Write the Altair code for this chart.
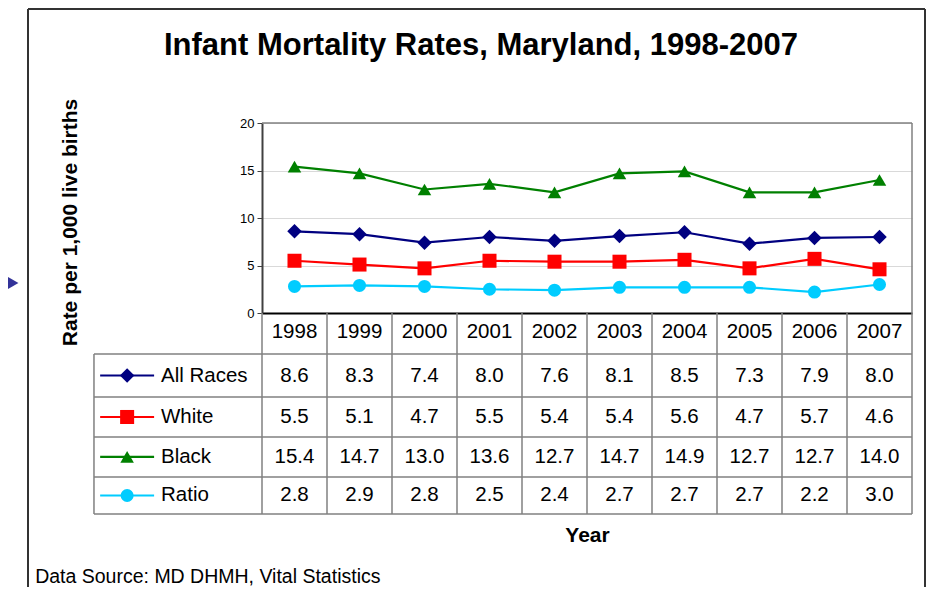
import altair as alt
import pandas as pd

# ---------------- data ----------------
years = [1998, 1999, 2000, 2001, 2002, 2003, 2004, 2005, 2006, 2007]
series_names = ["All Races", "White", "Black", "Ratio"]
all_races = [8.6, 8.3, 7.4, 8.0, 7.6, 8.1, 8.5, 7.3, 7.9, 8.0]
white = [5.5, 5.1, 4.7, 5.5, 5.4, 5.4, 5.6, 4.7, 5.7, 4.6]
black = [15.4, 14.7, 13.0, 13.6, 12.7, 14.7, 14.9, 12.7, 12.7, 14.0]
ratio = [2.8, 2.9, 2.8, 2.5, 2.4, 2.7, 2.7, 2.7, 2.2, 3.0]
y_ticks = [0, 5, 10, 15, 20]

# ---------------- styles ----------------
colors = ["#000080", "#FF0000", "#008000", "#00CCFF"]
shapes = ["diamond", "square", "triangle-up", "circle"]
marker_sizes = [210, 170, 200, 150]
FONT = "Liberation Sans"

# layout in axis units (1 x-unit = one year column, y in rate units)
ROW_EDGES = [0, -4.32, -8.84, -13.05, -17.26, -21.16]
LABEL_LEFT = -2.585
FRAME_L, FRAME_R, FRAME_T, FRAME_B = -3.6, 10.2, 32.0, -30.5

XS = alt.Scale(domain=[0, 10], nice=False, zero=False)
YS = alt.Scale(domain=[0, 20], nice=False, zero=False)
COLOR = alt.Scale(domain=series_names, range=colors)
SHAPE = alt.Scale(domain=series_names, range=shapes)
SIZE = alt.Scale(domain=series_names, range=marker_sizes)

# ---------------- tables ----------------
vals = [all_races, white, black, ratio]
rows = []
for si, (name, vs) in enumerate(zip(series_names, vals)):
    yc = (ROW_EDGES[si + 1] + ROW_EDGES[si + 2]) / 2
    for i, (yr, v) in enumerate(zip(years, vs)):
        rows.append(dict(series=name, year=yr, xc=i + 0.5, value=v,
                         label=f"{v:.1f}", rowc=yc))
df = pd.DataFrame(rows)

df_years = pd.DataFrame(dict(xc=[i + 0.5 for i in range(len(years))],
                             yc=[(ROW_EDGES[0] + ROW_EDGES[1]) / 2 + 0.2] * len(years),
                             label=[str(y) for y in years]))

df_leg = pd.DataFrame(dict(
    series=series_names,
    x1=[-2.49] * 4, x2=[-1.66] * 4, xm=[-2.075] * 4, xt=[-1.554] * 4,
    yc=[(ROW_EDGES[i + 1] + ROW_EDGES[i + 2]) / 2 for i in range(4)]))

seg = []
for k in range(0, 10):
    seg.append(dict(x=k, x2=k, y=0, y2=ROW_EDGES[-1]))
seg.append(dict(x=10, x2=10, y=20, y2=ROW_EDGES[-1]))
for e in ROW_EDGES[1:]:
    seg.append(dict(x=LABEL_LEFT, x2=10, y=e, y2=e))
seg.append(dict(x=LABEL_LEFT, x2=LABEL_LEFT, y=ROW_EDGES[1], y2=ROW_EDGES[-1]))
seg.append(dict(x=0, x2=10, y=20, y2=20))
df_seg = pd.DataFrame(seg)

df_frame = pd.DataFrame([
    dict(x=FRAME_L, x2=FRAME_L, y=FRAME_T, y2=FRAME_B),
    dict(x=FRAME_R, x2=FRAME_R, y=FRAME_T, y2=FRAME_B),
    dict(x=FRAME_L, x2=FRAME_R, y=FRAME_T, y2=FRAME_T),
])

df_note = pd.DataFrame(dict(x=[-3.49], y=[-27.75], t=["Data Source: MD DHMH, Vital Statistics"]))
df_arrow = pd.DataFrame(dict(x=[-3.88], y=[3.16]))

# ---------------- axes ----------------
yaxis = alt.Axis(values=y_ticks, grid=True, gridColor="#D9D9D9", gridWidth=1,
                 domainColor="#404040", domainWidth=2, tickColor="#404040",
                 tickSize=5, tickWidth=1, labelFont=FONT, labelFontSize=13,
                 labelColor="black", labelPadding=3,
                 title="Rate per 1,000 live births", titleFont=FONT,
                 titleFontSize=21, titleFontWeight="bold", titleColor="black",
                 titleX=-192, titleY=99, titleAngle=270, titleBaseline="middle",
                 titleAlign="center")
xaxis = alt.Axis(labels=False, ticks=False, grid=False, domainColor="black",
                 domainWidth=2, title="Year", titleFont=FONT, titleFontSize=21,
                 titleFontWeight="bold", titleColor="black", titleY=222,
                 titleX=325, titleBaseline="middle", titleAlign="center")


def X(f):
    return alt.X(f, scale=XS, axis=xaxis)


def Y(f):
    return alt.Y(f, scale=YS, axis=yaxis)


lines = alt.Chart(df).mark_line(strokeWidth=2.2).encode(
    x=X("xc:Q"), y=Y("value:Q"),
    color=alt.Color("series:N", scale=COLOR, legend=None), detail="series:N")

points = alt.Chart(df).mark_point(filled=True, opacity=1).encode(
    x=X("xc:Q"), y=Y("value:Q"),
    color=alt.Color("series:N", scale=COLOR, legend=None),
    shape=alt.Shape("series:N", scale=SHAPE, legend=None),
    size=alt.Size("series:N", scale=SIZE, legend=None))

grid_rules = alt.Chart(df_seg).mark_rule(color="#808080", strokeWidth=1.5).encode(
    x=X("x:Q"), x2="x2:Q", y=Y("y:Q"), y2="y2:Q")

frame_rules = alt.Chart(df_frame).mark_rule(color="#333333", strokeWidth=2).encode(
    x=X("x:Q"), x2="x2:Q", y=Y("y:Q"), y2="y2:Q")

year_text = alt.Chart(df_years).mark_text(font=FONT, fontSize=20.5, color="black",
                                          baseline="middle").encode(
    x=X("xc:Q"), y=Y("yc:Q"), text="label:N")

val_text = alt.Chart(df).mark_text(font=FONT, fontSize=20.5, color="black",
                                   baseline="middle").encode(
    x=X("xc:Q"), y=Y("rowc:Q"), text="label:N")

leg_lines = alt.Chart(df_leg).mark_rule(strokeWidth=2.2).encode(
    x=X("x1:Q"), x2="x2:Q", y=Y("yc:Q"),
    color=alt.Color("series:N", scale=COLOR, legend=None))

leg_points = alt.Chart(df_leg).mark_point(filled=True, opacity=1).encode(
    x=X("xm:Q"), y=Y("yc:Q"),
    color=alt.Color("series:N", scale=COLOR, legend=None),
    shape=alt.Shape("series:N", scale=SHAPE, legend=None),
    size=alt.Size("series:N", scale=SIZE, legend=None))

leg_text = alt.Chart(df_leg).mark_text(font=FONT, fontSize=20.5, color="black",
                                       align="left", baseline="middle").encode(
    x=X("xt:Q"), y=Y("yc:Q"), text="series:N")

note = alt.Chart(df_note).mark_text(font=FONT, fontSize=19.5, color="black",
                                    align="left", baseline="middle").encode(
    x=X("x:Q"), y=Y("y:Q"), text="t:N")

arrow = alt.Chart(df_arrow).mark_point(shape="triangle-right", filled=True,
                                       opacity=1, size=400, color="#333399").encode(
    x=X("x:Q"), y=Y("y:Q"))

chart = alt.layer(
    grid_rules, lines, points, year_text, val_text, leg_lines, leg_points,
    leg_text, frame_rules, note, arrow
).properties(
    width=650, height=190,
    title=alt.TitleParams("Infant Mortality Rates, Maryland, 1998-2007",
                          font=FONT, fontSize=31, fontWeight="bold",
                          color="black", anchor="middle", dx=-106, dy=58),
    autosize=alt.AutoSizeParams(type="none"),
    padding={"left": 254, "top": 115, "right": 15, "bottom": 274},
).configure_view(stroke=None)

chart.save("out.html", embed_options={"renderer": "svg", "actions": False})
